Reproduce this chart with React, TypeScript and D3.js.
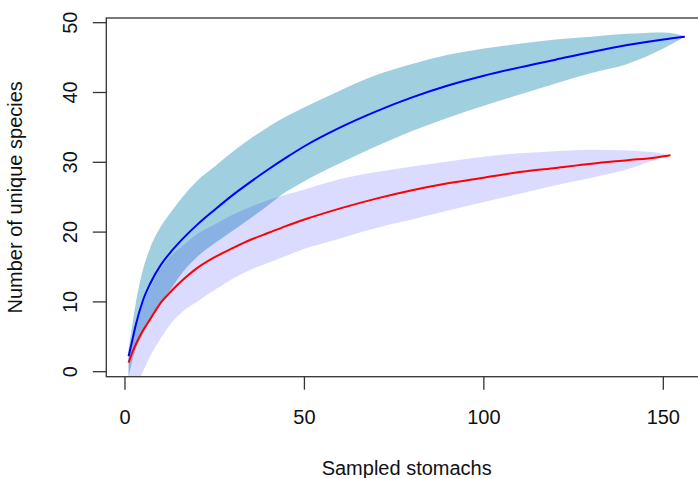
import React from "react";
import * as d3 from "d3";

// ---- data ----
const blueX = [1, 2, 3, 5, 7, 10, 13, 16, 20, 25, 30, 35, 40, 45, 50, 60, 70, 80, 90, 100, 110, 120, 130, 140, 150, 156];
const blueMean = [2.2, 4.4, 6.7, 10.2, 12.6, 15.3, 17.3, 19.0, 21.0, 23.2, 25.3, 27.2, 29.0, 30.7, 32.3, 35.0, 37.3, 39.3, 41.0, 42.4, 43.6, 44.7, 45.8, 46.8, 47.6, 48.0];
const blueUpper = [3.2, 6.5, 9.8, 14.6, 17.7, 20.8, 23.0, 25.0, 27.3, 29.4, 31.5, 33.4, 35.1, 36.6, 37.9, 40.3, 42.5, 44.1, 45.4, 46.3, 47.0, 47.6, 48.0, 48.4, 48.6, 48.1];
const blueLower = [-0.8, 1.5, 3.2, 5.4, 7.3, 10.0, 12.0, 14.2, 16.4, 18.4, 20.2, 22.0, 23.9, 25.8, 27.3, 29.9, 32.3, 34.5, 36.4, 38.1, 39.7, 41.3, 42.8, 44.1, 46.3, 48.0];

const redX = [1, 2, 3, 5, 7, 10, 13, 16, 20, 25, 30, 35, 40, 45, 50, 60, 70, 80, 90, 100, 110, 120, 130, 140, 148, 152];
const redMean = [1.3, 2.7, 3.9, 5.9, 7.5, 9.9, 11.6, 13.1, 14.8, 16.4, 17.7, 18.9, 19.9, 20.9, 21.8, 23.4, 24.8, 26.0, 27.0, 27.8, 28.6, 29.2, 29.8, 30.3, 30.7, 31.0];
const redUpper = [2.0, 4.6, 6.8, 9.8, 12.0, 14.8, 16.7, 18.0, 19.7, 21.1, 22.5, 23.6, 24.6, 25.4, 26.1, 27.6, 28.6, 29.4, 30.1, 30.8, 31.3, 31.6, 31.8, 31.7, 31.4, 31.0];
const redLower = [-4.0, -3.2, -2.5, 0.0, 2.2, 4.8, 7.0, 8.6, 10.0, 11.7, 13.3, 14.6, 15.6, 16.6, 17.6, 19.1, 20.6, 21.8, 23.1, 24.3, 25.5, 26.7, 27.8, 29.0, 30.4, 31.0];

const xTicks = [0, 50, 100, 150];
const yTicks = [0, 10, 20, 30, 40, 50];
const xTitle = "Sampled stomachs";
const yTitle = "Number of unique species";

export default function App() {
  const W = 698, H = 478;
  const left = 106.3, right = 707.1, top = 18, bottom = 376.7;
  const x = d3.scaleLinear().domain([-5.2, 162.2]).range([left, right]);
  const y = d3.scaleLinear().domain([-0.716, 50.673]).range([bottom, top]);

  type P = { x: number; m: number; lo: number; hi: number };
  const blue: P[] = blueX.map((v, i) => ({ x: v, m: blueMean[i], lo: blueLower[i], hi: blueUpper[i] }));
  const red: P[] = redX.map((v, i) => ({ x: v, m: redMean[i], lo: redLower[i], hi: redUpper[i] }));

  const area = d3.area<P>().x(d => x(d.x)).y0(d => y(d.lo)).y1(d => y(d.hi)).curve(d3.curveMonotoneX);
  const line = d3.line<P>().x(d => x(d.x)).y(d => y(d.m)).curve(d3.curveMonotoneX);

  const font = "'Liberation Sans', Arial, Helvetica, sans-serif";
  const axisColor = "#333";
  const fs = 20;

  return (
    <svg width={W} height={H} style={{ position: "absolute", left: 0, top: 0, background: "#fff" }} fontFamily={font}>
      <defs>
        <clipPath id="plotClip">
          <rect x={left} y={top} width={right - left} height={bottom - top} />
        </clipPath>
      </defs>
      <g clipPath="url(#plotClip)">
        <path d={area(blue) || ""} fill="#a0cfdf" />
        <path d={area(red) || ""} fill="rgba(0,0,255,0.14)" />
        <path d={line(blue) || ""} fill="none" stroke="#0000ff" strokeWidth={2} />
        <path d={line(red) || ""} fill="none" stroke="#ff0000" strokeWidth={2} />
      </g>
      <rect x={left} y={top} width={right - left} height={bottom - top} fill="none" stroke={axisColor} strokeWidth={1.3} />
      {xTicks.map(t => (
        <g key={"x" + t}>
          <line x1={x(t)} x2={x(t)} y1={bottom} y2={bottom + 13} stroke={axisColor} strokeWidth={1.3} />
          <text x={x(t)} y={424.3} textAnchor="middle" fontSize={fs} fill="#111">{t}</text>
        </g>
      ))}
      {yTicks.map(t => (
        <g key={"y" + t}>
          <line x1={left - 13.5} x2={left} y1={y(t)} y2={y(t)} stroke={axisColor} strokeWidth={1.3} />
          <text transform={`translate(76.7,${y(t)}) rotate(-90)`} textAnchor="middle" fontSize={fs} fill="#111">{t}</text>
        </g>
      ))}
      <text x={(left + right) / 2} y={475} textAnchor="middle" fontSize={fs} fill="#111">{xTitle}</text>
      <text transform={`translate(21.7,${(top + bottom) / 2}) rotate(-90)`} textAnchor="middle" fontSize={fs} fill="#111">{yTitle}</text>
    </svg>
  );
}
